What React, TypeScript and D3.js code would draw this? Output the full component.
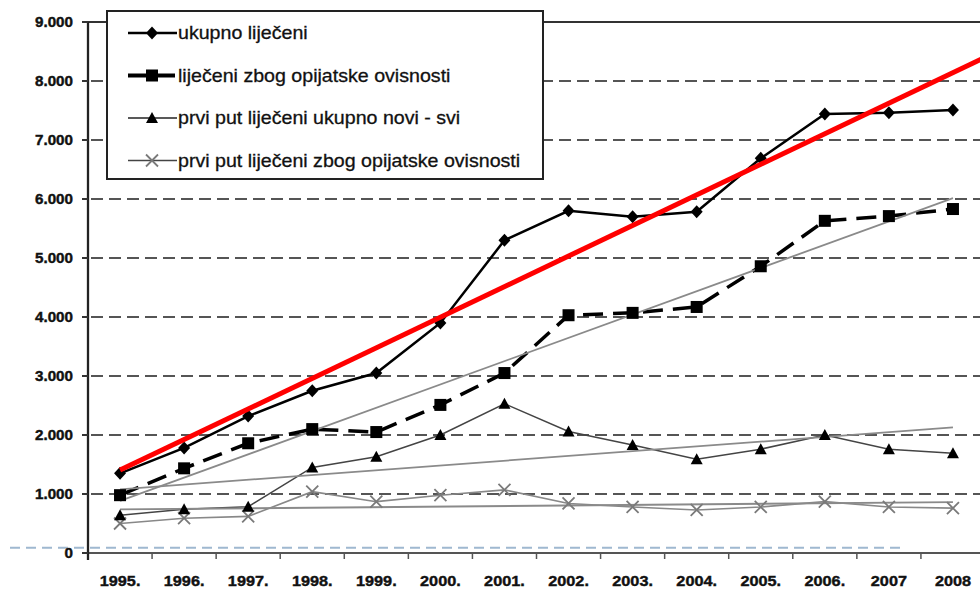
import React from 'react';
import * as d3 from 'd3';

const years = ['1995.', '1996.', '1997.', '1998.', '1999.', '2000.', '2001.', '2002.', '2003.', '2004.', '2005.', '2006.', '2007', '2008'];
const ukupnoLijeceni = [1350, 1780, 2320, 2750, 3050, 3900, 5300, 5800, 5700, 5785, 6690, 7440, 7460, 7510];
const lijeceniOpijati = [980, 1435, 1860, 2100, 2050, 2510, 3050, 4030, 4070, 4170, 4860, 5630, 5710, 5830];
const noviSvi = [640, 740, 785, 1450, 1630, 2000, 2530, 2060, 1830, 1590, 1760, 2000, 1760, 1690];
const noviOpijati = [500, 590, 620, 1040, 870, 980, 1070, 840, 780, 730, 780, 870, 780, 760];
const yTicks = [0, 1000, 2000, 3000, 4000, 5000, 6000, 7000, 8000, 9000];
const yTickLabels = ['0', '1.000', '2.000', '3.000', '4.000', '5.000', '6.000', '7.000', '8.000', '9.000'];
const legendLabels = [
  'ukupno liječeni',
  'liječeni zbog opijatske ovisnosti',
  'prvi put liječeni ukupno novi - svi',
  'prvi put liječeni zbog opijatske ovisnosti',
];
const stray = 90;

function linreg(v: number[]) {
  const n = v.length;
  const mx = (n - 1) / 2;
  const my = d3.mean(v) as number;
  let sxy = 0, sxx = 0;
  v.forEach((y, i) => { sxy += (i - mx) * (y - my); sxx += (i - mx) * (i - mx); });
  const b = sxy / sxx;
  const a = my - b * mx;
  return (i: number) => a + b * i;
}

const W = 980, H = 589;
const FONT = '"Liberation Sans", Arial, sans-serif';
const SX = 1.085;

const Diamond = ({ x, y }: any) => <path d="M0,-6.5L6,0L0,6.5L-6,0Z" transform={`translate(${x},${y})`} fill="#000" />;
const Square = ({ x, y }: any) => <rect x={x - 6} y={y - 6} width={12} height={12} fill="#000" />;
const Tri = ({ x, y }: any) => <path d="M0,-6L6,5L-6,5Z" transform={`translate(${x},${y})`} fill="#000" />;
const Cross = ({ x, y }: any) => <path d="M-6,-6L6,6M-6,6L6,-6" transform={`translate(${x},${y})`} stroke="#7a7a7a" strokeWidth={1.8} fill="none" />;

export default function App() {
  const x = d3.scaleBand<string>().domain(years).range([88, 985]);
  const xi = d3.scaleLinear().domain([-0.5, years.length - 0.5]).range([88, 985]);
  const y = d3.scaleLinear().domain([0, 9000]).range([553, 22]);
  const line = d3.line<number>().x((_, i) => xi(i)).y((d) => y(d));
  const trend = (v: number[], i1: number) => {
    const f = linreg(v);
    return `M${xi(0)},${y(f(0))}L${xi(i1)},${y(f(i1))}`;
  };
  const last = years.length - 1;

  return (
    <svg width={W} height={H} style={{ position: 'absolute', left: 0, top: 0, background: '#fff' }} fontFamily={FONT}>
      <rect width={W} height={H} fill="#fff" />
      {/* gridlines */}
      {yTicks.filter((t) => t > 0 && t < 9000).map((t) => (
        <line key={t} x1={88} x2={985} y1={y(t)} y2={y(t)} stroke="#555" strokeWidth={2} strokeDasharray="12 6" strokeDashoffset={-3} />
      ))}
      <line x1={82} x2={985} y1={y(9000)} y2={y(9000)} stroke="#333" strokeWidth={2} />
      {/* stray light blue dashed line */}
      <line x1={10} x2={901} y1={y(stray)} y2={y(stray)} stroke="#9fb8d0" strokeWidth={2} strokeDasharray="10 6" />
      {/* axes */}
      <line x1={88} x2={985} y1={553} y2={553} stroke="#555" strokeWidth={2.2} />
      {years.slice(1).map((yr) => (
        <line key={yr} x1={x(yr)} x2={x(yr)} y1={553} y2={559} stroke="#555" strokeWidth={1.5} />
      ))}
      <line x1={88} x2={88} y1={22} y2={560} stroke="#222" strokeWidth={2.3} />
      {yTicks.map((t) => (
        <line key={t} x1={82} x2={88} y1={y(t)} y2={y(t)} stroke="#333" strokeWidth={2} />
      ))}
      {yTicks.map((t, i) => (
        <text key={t} transform={`translate(73,${y(t)}) scale(${SX},1)`} dy="0.36em" textAnchor="end" fontSize={14} fontWeight="bold" fill="#111" stroke="#111" strokeWidth={0.4}>{yTickLabels[i]}</text>
      ))}
      {years.map((yr) => (
        <text key={yr} transform={`translate(${(x(yr) as number) + x.bandwidth() / 2},586) scale(${SX},1)`} textAnchor="middle" fontSize={15} fontWeight="bold" fill="#111" stroke="#111" strokeWidth={0.4}>{yr}</text>
      ))}

      {/* series */}
      <path d={line(noviOpijati) as string} fill="none" stroke="#888" strokeWidth={1.6} />
      <path d={line(noviSvi) as string} fill="none" stroke="#444" strokeWidth={1.5} />
      <path d={line(lijeceniOpijati) as string} fill="none" stroke="#000" strokeWidth={3.5} strokeDasharray="20 10" />
      <path d={line(ukupnoLijeceni) as string} fill="none" stroke="#000" strokeWidth={2.5} />

      {/* trendlines */}
      <path d={trend(noviOpijati, last)} stroke="#8a8a8a" strokeWidth={1.8} fill="none" />
      <path d={trend(noviSvi, last)} stroke="#8a8a8a" strokeWidth={1.8} fill="none" />
      <path d={trend(lijeceniOpijati, last)} stroke="#8a8a8a" strokeWidth={1.8} fill="none" />

      {noviOpijati.map((v, i) => <Cross key={i} x={xi(i)} y={y(v)} />)}
      {noviSvi.map((v, i) => <Tri key={i} x={xi(i)} y={y(v)} />)}
      {lijeceniOpijati.map((v, i) => <Square key={i} x={xi(i)} y={y(v)} />)}
      {ukupnoLijeceni.map((v, i) => <Diamond key={i} x={xi(i)} y={y(v)} />)}

      <path d={trend(ukupnoLijeceni, last + 0.6)} stroke="#ff0000" strokeWidth={5} fill="none" />

      {/* legend */}
      <rect x={107} y={11} width={436} height={168} fill="#fff" stroke="#222" strokeWidth={2} />
      {legendLabels.map((lab, i) => {
        const ly = 39 + i * 42.5;
        const my = ly - 6;
        return (
          <g key={lab}>
            {i === 0 && <line x1={128} x2={177} y1={my} y2={my} stroke="#000" strokeWidth={2.5} />}
            {i === 0 && <Diamond x={152} y={my} />}
            {i === 1 && <line x1={128} x2={177} y1={my} y2={my} stroke="#000" strokeWidth={4} strokeDasharray="20 7" />}
            {i === 1 && <Square x={152} y={my} />}
            {i === 2 && <line x1={128} x2={177} y1={my} y2={my} stroke="#222" strokeWidth={1.5} />}
            {i === 2 && <Tri x={152} y={my} />}
            {i === 3 && <line x1={128} x2={177} y1={my} y2={my} stroke="#444" strokeWidth={1.5} />}
            {i === 3 && <Cross x={152} y={my} />}
            <text transform={`translate(178,${ly}) scale(1.09,1)`} fontSize={18} fill="#111" stroke="#111" strokeWidth={0.3}>{lab}</text>
          </g>
        );
      })}
    </svg>
  );
}
